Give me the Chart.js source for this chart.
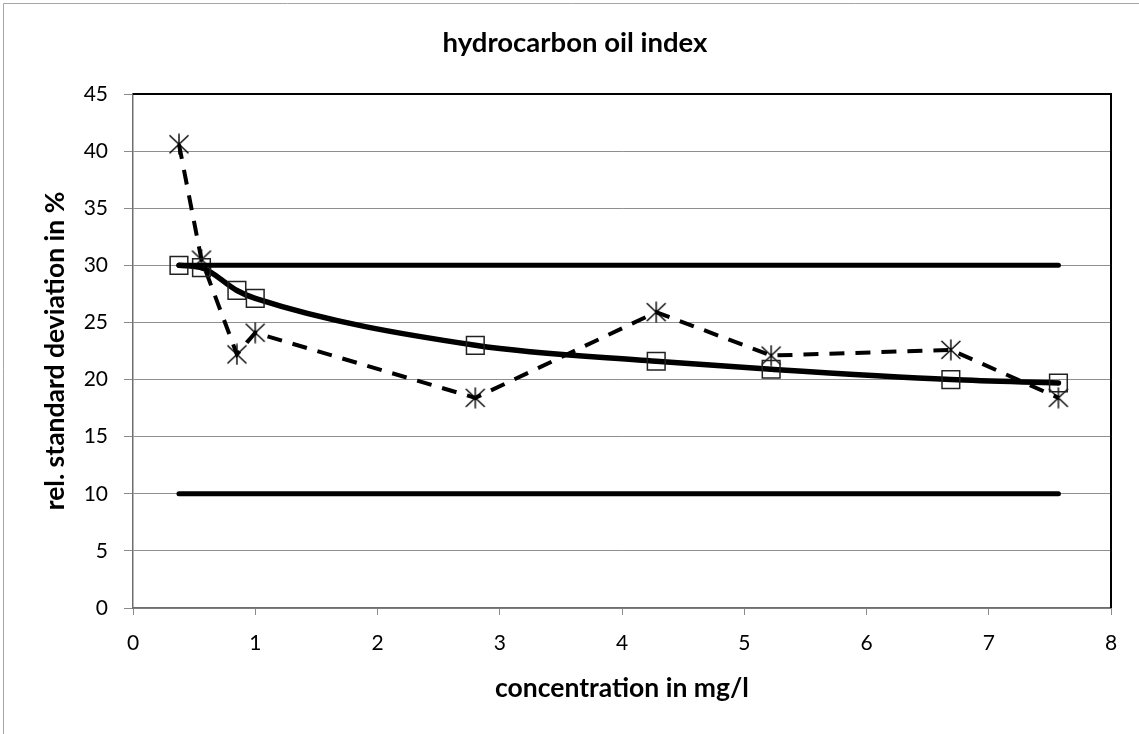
<!DOCTYPE html>
<html>
<head>
<meta charset="utf-8">
<script src="https://cdn.jsdelivr.net/npm/chart.js@4.4.1/dist/chart.umd.min.js"></script>
<style>
  html, body { margin: 0; padding: 0; background: #fff; }
  #box { width: 1139px; height: 734px; position: relative; }
  canvas { display: block; }
</style>
</head>
<body>
<div id="box"><canvas id="oilIndex" width="1139" height="734"></canvas></div>
<script>
// ---------------------------------- data ------------------------------
let concentration = [0.376, 0.56, 0.85, 1.0, 2.8, 4.28, 5.22, 6.69, 7.57];
let rsdSmooth = [30.0, 29.8, 27.8, 27.1, 23.0, 21.6, 20.9, 20.0, 19.7];
let rsdMeasured = [40.6, 30.5, 22.2, 24.1, 18.4, 25.9, 22.1, 22.6, 18.4];
let limitX = [0.376, 7.57];
let upperLimit = [30, 30];
let lowerLimit = [10, 10];
let xTicks = [0, 1, 2, 3, 4, 5, 6, 7, 8];
let yTicks = [0, 5, 10, 15, 20, 25, 30, 35, 40, 45];

let toPoints = (xs, ys) => xs.map((x, i) => ({ x: x, y: ys[i] }));

// ---------------------------------- star marker ------------------------
let star = document.createElement("canvas");
star.width = 22;
star.height = 22;
let sctx = star.getContext("2d");
sctx.strokeStyle = "#000";
sctx.lineWidth = 1.4;
sctx.beginPath();
sctx.moveTo(1.5, 2); sctx.lineTo(20.5, 20);
sctx.moveTo(20.5, 2); sctx.lineTo(1.5, 20);
sctx.moveTo(11, 0.5); sctx.lineTo(11, 21.5);
sctx.stroke();

// ---------------------------------- frame plugin -----------------------
let framePlugin = {
  id: "frame",
  beforeDraw(chart) {
    let c = chart.ctx;
    c.save();
    c.strokeStyle = "#a6a6a6";
    c.lineWidth = 1;
    c.beginPath();
    c.moveTo(3.5, 734); c.lineTo(3.5, 3.5); c.lineTo(1139, 3.5);
    c.stroke();
    c.restore();
  },
  beforeDatasetsDraw(chart) {
    let a = chart.chartArea;
    let c = chart.ctx;
    c.save();
    c.strokeStyle = "#000";
    c.lineWidth = 2;
    c.beginPath();
    c.moveTo(a.left, a.top); c.lineTo(a.right, a.top); c.lineTo(a.right, a.bottom);
    c.stroke();
    c.restore();
  },
};

const ctx = document.getElementById("oilIndex");

new Chart(ctx, {
  type: "line",
  data: {
    datasets: [
      {
        label: "upper",
        data: toPoints(limitX, upperLimit),
        borderColor: "#000",
        borderWidth: 5,
        pointRadius: 0,
        borderCapStyle: "round",
      },
      {
        label: "lower",
        data: toPoints(limitX, lowerLimit),
        borderColor: "#000",
        borderWidth: 5,
        pointRadius: 0,
        borderCapStyle: "round",
      },
      {
        label: "mean",
        data: toPoints(concentration, rsdSmooth),
        borderColor: "#000",
        borderWidth: 5.5,
        cubicInterpolationMode: "monotone",
        borderCapStyle: "round",
        pointStyle: "rect",
        pointRadius: 12.5,
        pointBorderWidth: 1.5,
        pointBorderColor: "#222",
        pointBackgroundColor: "rgba(0,0,0,0)",
      },
      {
        label: "measured",
        data: toPoints(concentration, rsdMeasured),
        borderColor: "#000",
        borderWidth: 4,
        borderDash: [15, 11],
        tension: 0,
        pointStyle: star,
        pointRadius: 10,
      },
    ],
  },
  plugins: [framePlugin],
  options: {
    responsive: false,
    animation: false,
    devicePixelRatio: 1,
    layout: { padding: { left: 11, right: 0, top: 0, bottom: 0 } },
    plugins: {
      legend: { display: false },
      tooltip: { enabled: false },
      title: {
        display: true,
        text: "hydrocarbon oil index",
        color: "#000",
        font: { family: "Lato", size: 27.5, weight: "bold" },
        padding: { top: 27, bottom: 34 },
      },
    },
    scales: {
      x: {
        type: "linear",
        min: 0,
        max: 8,
        afterFit: (s) => { s.height = 126; },
        afterBuildTicks: (s) => { s.ticks = xTicks.map((v) => ({ value: v })); },
        ticks: { color: "#000", padding: 16, font: { family: "Lato", size: 21 } },
        grid: { drawOnChartArea: false, drawTicks: true, tickLength: 7, color: "#8a8a8a" },
        border: { color: "#6e6e6e", width: 1.5 },
        title: {
          display: true,
          text: "concentration in mg/l",
          color: "#000",
          font: { family: "Lato", size: 26.5, weight: "bold" },
          padding: { top: 0, bottom: 30 },
        },
      },
      y: {
        type: "linear",
        min: 0,
        max: 45,
        afterFit: (s) => { s.width = 122; },
        afterBuildTicks: (s) => { s.ticks = yTicks.map((v) => ({ value: v })); },
        ticks: { color: "#000", padding: 16, font: { family: "Lato", size: 21 } },
        grid: { color: "#8f8f8f", lineWidth: 1, tickLength: 9, tickColor: "#8a8a8a" },
        border: { color: "#6e6e6e", width: 1.5 },
        title: {
          display: true,
          text: "rel. standard deviation in %",
          color: "#000",
          font: { family: "Lato", size: 26.5, weight: "bold" },
          padding: { top: 29, bottom: 0 },
        },
      },
      yRight: {
        type: "linear",
        position: "right",
        min: 0,
        max: 45,
        afterFit: (s) => { s.width = 28; },
        grid: { display: false },
        ticks: { display: false },
        border: { display: false },
      },
    },
  },
});
</script>
</body>
</html>
